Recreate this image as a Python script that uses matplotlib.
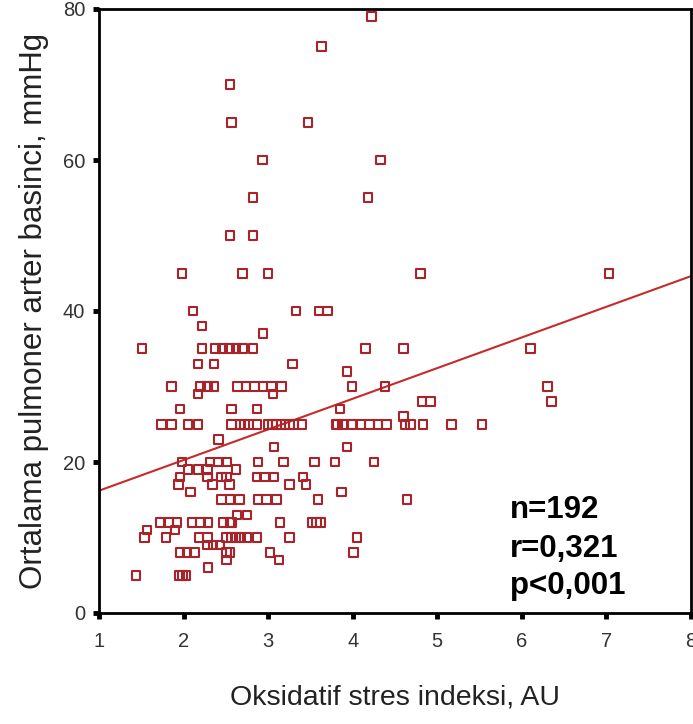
import numpy as np
import matplotlib
matplotlib.use("Agg")
import matplotlib.pyplot as plt

plt.rcParams['font.family'] = ['Liberation Sans', 'DejaVu Sans']

# points, grouped by y level (mmHg)
rows = {
    79: [4.22],
    75: [3.63],
    70: [2.55],
    65: [2.57, 3.47],
    60: [2.93, 4.33],
    55: [2.82, 4.18],
    50: [2.55, 2.82],
    45: [1.98, 2.70, 3.00, 4.80, 7.03],
    40: [2.11, 3.33, 3.60, 3.70],
    38: [2.22],
    37: [2.94],
    35: [1.51, 2.22, 2.38, 2.46, 2.54, 2.62, 2.70, 2.82, 4.15, 4.60, 6.10],
    33: [2.17, 2.36, 3.29],
    32: [3.93],
    30: [1.86, 2.20, 2.28, 2.36, 2.64, 2.74, 2.84, 2.94, 3.04, 3.16, 3.99, 4.38, 6.30],
    29: [2.17, 3.06],
    28: [4.82, 4.92, 6.35],
    27: [1.96, 2.57, 2.87, 3.85],
    26: [4.60],
    25: [1.74, 1.86, 2.05, 2.17, 2.57, 2.67, 2.72, 2.77, 2.87, 3.00, 3.05, 3.10,
         3.15, 3.20, 3.25, 3.30, 3.40, 3.80, 3.82, 3.88, 3.99, 4.10, 4.20, 4.30,
         4.40, 4.62, 4.68, 4.83, 5.17, 5.53],
    23: [2.41],
    22: [3.07, 3.93],
    20: [1.98, 2.31, 2.41, 2.51, 2.88, 3.18, 3.55, 3.79, 4.25],
    19: [2.05, 2.17, 2.28, 2.62],
    18: [1.96, 2.28, 2.45, 2.51, 2.87, 2.96, 3.07, 3.41],
    17: [1.94, 2.34, 2.54, 3.25, 3.45],
    16: [2.08, 3.87],
    15: [2.45, 2.55, 2.66, 2.88, 2.98, 3.10, 3.59, 4.64],
    13: [2.63, 2.75],
    12: [1.72, 1.83, 1.92, 2.10, 2.20, 2.29, 2.47, 2.55, 2.57, 3.14, 3.52, 3.57, 3.62],
    11: [1.57, 1.90],
    10: [1.54, 1.79, 2.18, 2.28, 2.51, 2.56, 2.62, 2.68, 2.75, 2.87, 3.25, 4.05],
    9: [2.28, 2.35, 2.43],
    8: [1.96, 2.04, 2.13, 2.51, 2.55, 3.02, 4.01],
    7: [2.51, 3.13],
    6: [2.29],
    5: [1.44, 1.95, 1.99, 2.03],
}
osi = np.array([x for y, xs in rows.items() for x in xs])
pap = np.array([y for y, xs in rows.items() for x in xs], dtype=float)

# regression line
fit_intercept = 12.14
fit_slope = 4.06

stats_lines = ["n=192", "r=0,321", "p<0,001"]
stats_y = [14.1, 9.0, 4.0]

fig = plt.figure(figsize=(6.93, 7.24), dpi=100)
ax = fig.add_axes([99 / 693, 1 - 613 / 724, 592 / 693, 604 / 724])

ax.scatter(osi, pap, marker='s', s=38, facecolors='none',
           edgecolors='#a8232a', linewidths=1.5, zorder=3)

xl = np.array([1, 8])
ax.plot(xl, fit_intercept + fit_slope * xl, color='#c62a2a', lw=1.5, zorder=2)

for txt, yy in zip(stats_lines, stats_y):
    ax.text(5.86, yy, txt, fontsize=22.5, fontweight='bold', va='center_baseline',
            ha='left', color='black')

ax.set_xlim(1, 8)
ax.set_ylim(0, 80)
ax.set_xticks(range(1, 9))
ax.set_yticks(range(0, 81, 20))
ax.tick_params(direction='out', length=4, width=3.5, labelsize=14.5,
               labelcolor='#333333')
ax.tick_params(axis='x', pad=10)
ax.tick_params(axis='y', pad=6)
for sp in ax.spines.values():
    sp.set_linewidth(2)
    sp.set_color('black')

ax.set_xlabel("Oksidatif stres indeksi, AU", fontsize=20.5, color='#222222', labelpad=24)
ax.set_ylabel("Ortalama pulmoner arter basinci, mmHg", fontsize=22.5, color='#222222',
              labelpad=10)

fig.savefig("out.png", dpi=100)
